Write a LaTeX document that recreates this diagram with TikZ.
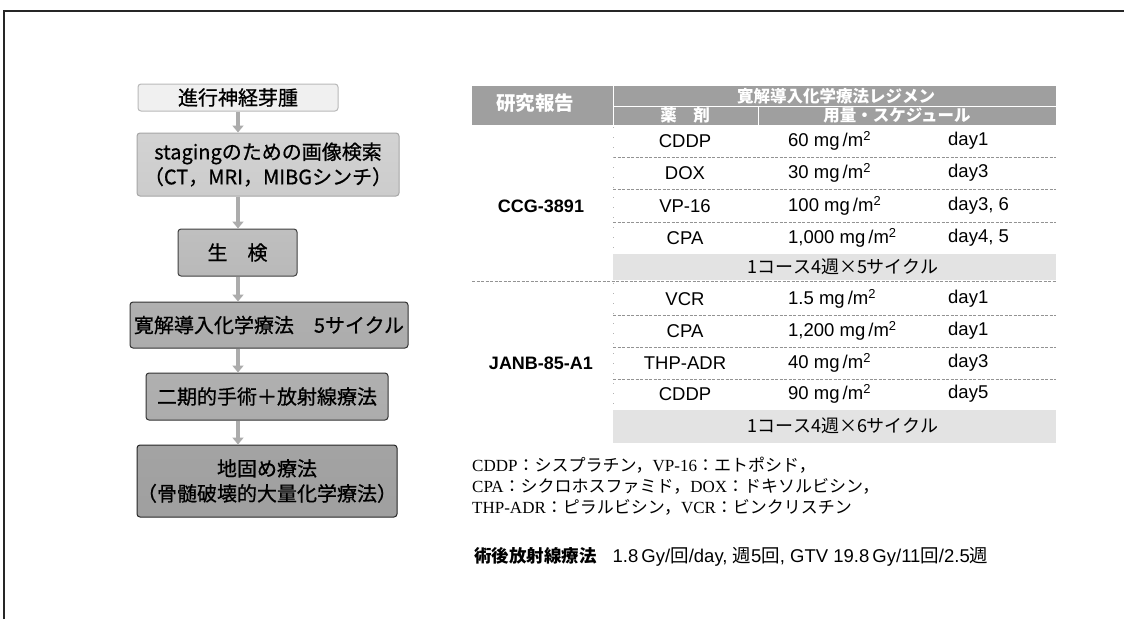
\documentclass[tikz,border=0pt]{standalone}
\usepackage{fontspec}
\setmainfont{Liberation Serif}
\newfontfamily\jp{Noto Sans CJK JP}
\newfontfamily\jpm[FakeBold=0.7]{Noto Sans CJK JP}
\newfontfamily\sansf{Liberation Sans}
\usetikzlibrary{arrows.meta}
\newcommand{\jtxt}[1]{{\jp #1}}
\begin{document}
\begin{tikzpicture}[x=1pt,y=-1pt,
  fbox/.style={rounded corners=3pt, inner sep=0pt, align=center,
    font=\jpm\fontsize{20}{25}\selectfont, line width=1pt},
  fb1/.style={fbox, fill=gray!12, draw=gray!55},
  fb2/.style={fbox, top color=gray!35, middle color=gray!8, bottom color=gray!40, draw=gray!70},
  fb3/.style={fbox, top color=gray!50, middle color=gray!15, bottom color=gray!55, draw=black!75},
  fb4/.style={fbox, top color=gray!62, middle color=gray!12, bottom color=gray!65, draw=black!80},
  fb6/.style={fbox, top color=gray!72, middle color=gray!22, bottom color=gray!75, draw=black!85},
  arr/.style={-{Triangle[length=7pt,width=11pt]}, line width=3.5pt, gray!65},
  hd/.style={text=white, font=\jp\bfseries\fontsize{16.5}{20}\selectfont, inner sep=0pt},
  drug/.style={font=\sansf\fontsize{18.5}{20}\selectfont, inner sep=0pt},
  dose/.style={drug, anchor=west},
  shrow/.style={font=\jp\fontsize{18}{20}\selectfont, inner sep=0pt},
  rsep/.style={gray!85, line width=0.7pt, dash pattern=on 3pt off 1.5pt},
  note/.style={anchor=west, inner sep=0pt, font=\fontsize{17}{20}\selectfont}
]
\useasboundingbox (0,0) rectangle (1124,619);
\fill[white] (0,0) rectangle (1124,619);
\draw[line width=1.3pt, black!85] (4,619) -- (4,11) -- (1124,11);

% ---------- flowchart ----------
\coordinate (ax) at (238,0);
\node[fb1, minimum width=200pt, minimum height=27pt] (b1) at (238,97.5) {進行神経芽腫};
\node[fb2, minimum width=262pt, minimum height=63pt] (b2) at (268,164.5) {stagingのための画像検索\\（CT，MRI，MIBGシンチ）};
\node[fb3, minimum width=119pt, minimum height=47pt] (b3) at (237.5,252.5) {生　検};
\node[fb4, minimum width=278pt, minimum height=46pt] (b4) at (269,325) {寛解導入化学療法　5サイクル};
\node[fb4, minimum width=242pt, minimum height=47pt] (b5) at (267,396.5) {二期的手術＋放射線療法};
\node[fb6, minimum width=242pt, minimum height=72pt] (b6) at (267,481) {地固め療法\\（骨髄破壊的大量化学療法）};

\draw[arr] (b1.south -| ax) -- (b2.north -| ax);
\draw[arr] (b2.south -| ax) -- (b3.north -| ax);
\draw[arr] (b3.south -| ax) -- (b4.north -| ax);
\draw[arr] (b4.south -| ax) -- (b5.north -| ax);
\draw[arr] (b5.south -| ax) -- (b6.north -| ax);

% ---------- table header ----------
\fill[gray!75] (472,86) rectangle (1056,125);
\draw[white, line width=1pt] (613,86) -- (613,125);
\draw[white, line width=1pt] (613,106) -- (1056,106);
\draw[white, line width=1pt] (758,106) -- (758,125);
\node[hd, font=\jp\bfseries\fontsize{19.5}{22}\selectfont] (h1) at (535,103) {研究報告};
\node[hd] (h2) at (836,96) {寛解導入化学療法レジメン};
\node[hd] (h3) at (685,115.5) {薬　剤};
\node[hd] (h4) at (897,115.5) {用量・スケジュール};

% ---------- shaded rows ----------
\fill[gray!22] (613,254) rectangle (1056,280);
\fill[gray!22] (613,410) rectangle (1056,443);
\node[shrow] (c1) at (843,267) {1コース4週×5サイクル};
\node[shrow] (c2) at (843,426) {1コース4週×6サイクル};

% ---------- separators ----------
\draw[rsep] (613,157) -- (1056,157);
\draw[rsep] (613,189) -- (1056,189);
\draw[rsep] (613,222) -- (1056,222);
\draw[rsep] (472,281) -- (1056,281);
\draw[rsep] (613,315) -- (1056,315);
\draw[rsep] (613,347) -- (1056,347);
\draw[rsep] (613,379) -- (1056,379);
\draw[gray!60, line width=0.6pt, dash pattern=on 1pt off 9pt] (613,127) -- (613,252);
\draw[gray!60, line width=0.6pt, dash pattern=on 1pt off 9pt] (613,283) -- (613,408);

% ---------- study labels ----------
\node[drug, font=\sansf\bfseries\fontsize{18}{20}\selectfont] (s1) at (541,206) {CCG-3891};
\node[drug, font=\sansf\bfseries\fontsize{18}{20}\selectfont] (s2) at (541,363) {JANB-85-A1};

% ---------- CCG rows ----------
\node[drug] (d1) at (685,141) {CDDP};
\node[dose] (m1) at (788,141) {60 mg\,/m\textsuperscript{2}};
\node[dose] (t1) at (948,141) {day1};
\node[drug] (d2) at (685,173) {DOX};
\node[dose] (m2) at (788,173) {30 mg\,/m\textsuperscript{2}};
\node[dose] (t2) at (948,173) {day3};
\node[drug] (d3) at (685,206) {VP-16};
\node[dose] (m3) at (788,206) {100 mg\,/m\textsuperscript{2}};
\node[dose] (t3) at (948,206) {day3, 6};
\node[drug] (d4) at (685,238) {CPA};
\node[dose] (m4) at (788,238) {1,000 mg\,/m\textsuperscript{2}};
\node[dose] (t4) at (948,238) {day4, 5};

% ---------- JANB rows ----------
\node[drug] (d5) at (685,299) {VCR};
\node[dose] (m5) at (788,299) {1.5 mg\,/m\textsuperscript{2}};
\node[dose] (t5) at (948,299) {day1};
\node[drug] (d6) at (685,331) {CPA};
\node[dose] (m6) at (788,331) {1,200 mg\,/m\textsuperscript{2}};
\node[dose] (t6) at (948,331) {day1};
\node[drug] (d7) at (685,363) {THP-ADR};
\node[dose] (m7) at (788,363) {40 mg\,/m\textsuperscript{2}};
\node[dose] (t7) at (948,363) {day3};
\node[drug] (d8) at (685,394) {CDDP};
\node[dose] (m8) at (788,394) {90 mg\,/m\textsuperscript{2}};
\node[dose] (t8) at (948,394) {day5};

% ---------- notes ----------
\node[note] (n1) at (472,465) {CDDP\jtxt{：シスプラチン，}VP-16\jtxt{：エトポシド，}};
\node[note] (n2) at (472,486) {CPA\jtxt{：シクロホスファミド，}DOX\jtxt{：ドキソルビシン，}};
\node[note] (n3) at (472,507) {THP-ADR\jtxt{：ピラルビシン，}VCR\jtxt{：ビンクリスチン}};
\node[note, font=\sansf\fontsize{18.5}{20}\selectfont] (n4) at (474,557) {\jtxt{\bfseries\fontsize{17.5}{20}\selectfont 術後放射線療法}\hspace{16pt}1.8\,Gy/\jtxt{回}/day, \jtxt{週}5\jtxt{回}, GTV 19.8\,Gy/11\jtxt{回}/2.5\jtxt{週}};
\end{tikzpicture}
\end{document}
